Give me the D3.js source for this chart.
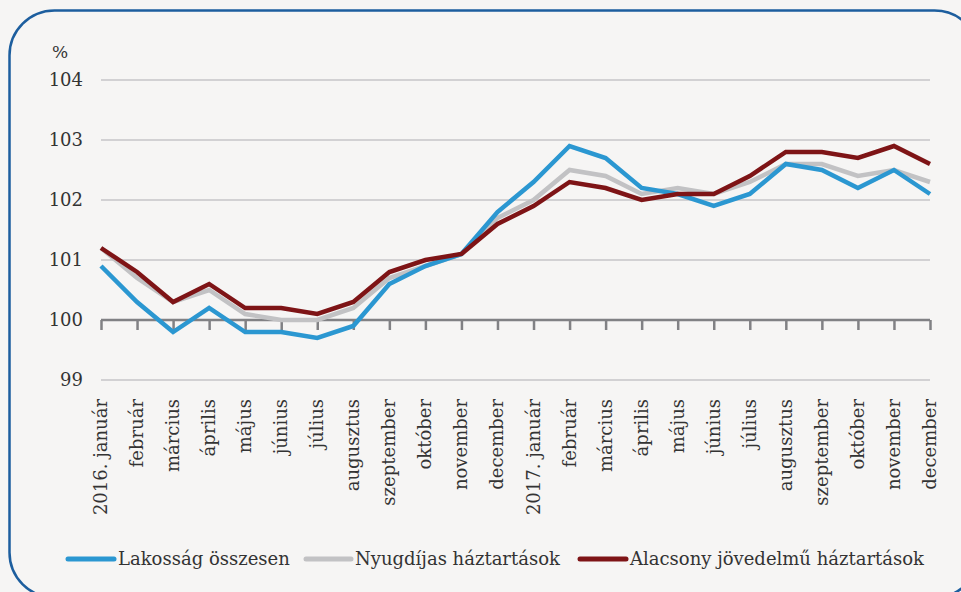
<!DOCTYPE html>
<html><head><meta charset="utf-8">
<script src="https://cdn.jsdelivr.net/npm/d3@7"></script>
<style>
html,body{margin:0;padding:0;background:#f6f5f4;}
svg{display:block;}
</style></head><body>
<svg id="c" width="961" height="592"></svg>
<script>
const categories = ["2016. január","február","március","április","május","június","július","augusztus","szeptember","október","november","december","2017. január","február","március","április","május","június","július","augusztus","szeptember","október","november","december"];
const lakossag = [100.9,100.3,99.8,100.2,99.8,99.8,99.7,99.9,100.6,100.9,101.1,101.8,102.3,102.9,102.7,102.2,102.1,101.9,102.1,102.6,102.5,102.2,102.5,102.1];
const nyugdijas = [101.2,100.7,100.3,100.5,100.1,100.0,100.0,100.2,100.7,100.9,101.1,101.7,102.0,102.5,102.4,102.1,102.2,102.1,102.3,102.6,102.6,102.4,102.5,102.3];
const alacsony = [101.2,100.8,100.3,100.6,100.2,100.2,100.1,100.3,100.8,101.0,101.1,101.6,101.9,102.3,102.2,102.0,102.1,102.1,102.4,102.8,102.8,102.7,102.9,102.6];
const yTicks = [99,100,101,102,103,104];
const seriesNames = ["Lakosság összesen","Nyugdíjas háztartások","Alacsony jövedelmű háztartások"];
const seriesColors = ["#2b97d1","#c2c2c4","#7e1416"];
const seriesData = [lakossag, nyugdijas, alacsony];

const FONT = "DejaVu Serif";
const svg = d3.select("#c").attr("font-family", FONT);
svg.append("rect").attr("x",9.5).attr("y",10.5).attr("width",970).attr("height",587)
  .attr("rx",45).attr("ry",45).attr("fill","#f6f5f4").attr("stroke","#1d5e9e").attr("stroke-width",2.5);

const x = d3.scalePoint().domain(d3.range(categories.length)).range([101,930]);
const y = d3.scaleLinear().domain([99,104]).range([380,80]);

svg.append("g").selectAll("line").data(yTicks.filter(d=>d!==100)).join("line")
  .attr("x1",101).attr("x2",930).attr("y1",d=>y(d)).attr("y2",d=>y(d))
  .attr("stroke","#c6c5c8").attr("stroke-width",1.5);

svg.append("g").selectAll("text").data(yTicks).join("text")
  .attr("x",83).attr("y",d=>y(d)).attr("dy","0.35em").attr("text-anchor","end")
  .attr("font-size",18).attr("fill","#333").text(d=>d);
svg.append("text").attr("x",52).attr("y",58).attr("font-size",17).attr("fill","#333").text("%");

const xAxis = d3.axisBottom(x).tickSize(10).tickFormat("");
const gx = svg.append("g").attr("transform",`translate(0,${y(100)})`).call(xAxis);
gx.attr("font-family",FONT);
gx.select(".domain").attr("stroke","#818184").attr("stroke-width",2.5).attr("d","M101,0H930");
gx.selectAll(".tick line").attr("stroke","#818184").attr("stroke-width",2.5);

svg.append("g").selectAll("text").data(categories).join("text")
  .attr("transform",(d,i)=>`translate(${x(i)+6},399) rotate(-90)`)
  .attr("text-anchor","end").attr("font-size",18).attr("fill","#333").text(d=>d);

const line = d3.line().x((d,i)=>x(i)).y(d=>y(d));
[1,0,2].forEach(k=>{
  svg.append("path").datum(seriesData[k]).attr("d",line).attr("fill","none")
    .attr("stroke",seriesColors[k]).attr("stroke-width",4.5).attr("stroke-linejoin","miter");
});

const legX = [[68,118],[306,355],[580,630]];
const leg = svg.append("g");
seriesNames.forEach((n,i)=>{
  leg.append("line").attr("x1",legX[i][0]).attr("x2",legX[i][1]-4).attr("y1",559).attr("y2",559)
    .attr("stroke",seriesColors[i]).attr("stroke-width",5).attr("stroke-linecap","round");
  leg.append("text").attr("x",legX[i][1]).attr("y",565).attr("font-size",18).attr("fill","#333").text(n);
});
</script></body></html>
